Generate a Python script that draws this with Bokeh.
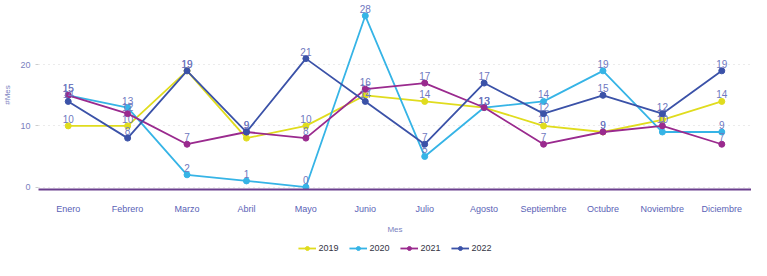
from bokeh.plotting import figure
from bokeh.layouts import column
from bokeh.models import ColumnDataSource, Legend, LegendItem, Range1d, FactorRange, FixedTicker
from bokeh.embed import file_html
from bokeh.resources import INLINE

months = ["Enero", "Febrero", "Marzo", "Abril", "Mayo", "Junio", "Julio",
          "Agosto", "Septiembre", "Octubre", "Noviembre", "Diciembre"]
years = ["2019", "2020", "2021", "2022"]
v2019 = [10, 10, 19, 8, 10, 15, 14, 13, 10, 9, 11, 14]
v2020 = [15, 13, 2, 1, 0, 28, 5, 13, 14, 19, 9, 9]
v2021 = [15, 12, 7, 9, 8, 16, 17, 13, 7, 9, 10, 7]
v2022 = [14, 8, 19, 9, 21, 14, 7, 17, 12, 15, 12, 19]
colors = ["#e0dc1e", "#36b4e6", "#9a2a8e", "#3b52a8"]

main = figure(width=751, height=236, x_range=FactorRange(factors=months),
              y_range=Range1d(-0.4, 30.5), output_backend="svg",
              toolbar_location=None, min_border_left=30, min_border_right=0,
              min_border_top=0, min_border_bottom=0)
main.outline_line_color = None

for name, vals, c in zip(years, [v2019, v2020, v2021, v2022], colors):
    src = ColumnDataSource(dict(x=months, y=vals, t=[str(v) for v in vals]))
    main.line("x", "y", source=src, line_color=c, line_width=1.8)
    main.scatter("x", "y", source=src, size=6, fill_color=c, line_color=c)
    main.text("x", "y", text="t", source=src, text_color="#6f78c0",
              text_font_size="10px", text_align="center", text_baseline="bottom",
              y_offset=-3)

main.yaxis.ticker = FixedTicker(ticks=[0, 10, 20])
main.yaxis.axis_label = "#Mes"
main.yaxis.axis_label_text_font_size = "8px"
main.yaxis.axis_label_text_font_style = "normal"
main.yaxis.axis_label_text_color = "#7a7fc0"
main.yaxis.major_label_text_font_size = "9px"
main.yaxis.major_label_text_color = "#7a7fc0"
main.yaxis.axis_line_color = None
main.yaxis.major_tick_line_color = "#cccccc"
main.yaxis.major_tick_out = 3
main.yaxis.major_tick_in = 0
main.yaxis.minor_tick_line_color = None

main.xaxis.axis_label = "Mes"
main.xaxis.axis_label_text_font_size = "8px"
main.xaxis.axis_label_text_font_style = "normal"
main.xaxis.axis_label_text_color = "#7a7fc0"
main.xaxis.axis_label_standoff = 8
main.xaxis.major_label_text_font_size = "9px"
main.xaxis.major_label_text_color = "#5a62b6"
main.xaxis.axis_line_color = "#6b3f8e"
main.xaxis.axis_line_width = 2
main.xaxis.major_tick_line_color = None
main.xaxis.major_tick_out = 0
main.xaxis.major_tick_in = 0
main.xaxis.major_label_standoff = 14

main.xgrid.grid_line_color = None
main.ygrid.grid_line_color = "#d6d6d6"
main.ygrid.grid_line_dash = "1 4"

# legend strip (dummy renderers placed outside the visible range)
leg = figure(width=751, height=24, x_range=Range1d(0, 1), y_range=Range1d(0, 1),
             output_backend="svg", toolbar_location=None, min_border=0)
leg.axis.visible = False
leg.grid.visible = False
leg.outline_line_color = None
items = []
for name, c in zip(years, colors):
    s = ColumnDataSource(dict(x=[-5, -4], y=[-5, -5]))
    r1 = leg.line("x", "y", source=s, line_color=c, line_width=1.8)
    r2 = leg.scatter("x", "y", source=s, size=6, fill_color=c, line_color=c)
    items.append(LegendItem(label=name, renderers=[r1, r2]))
legend = Legend(items=items, orientation="horizontal", location=(-15, 0),
                label_text_font_size="9px", label_text_color="#333344",
                glyph_width=18, glyph_height=10, spacing=10, padding=2,
                margin=0, border_line_color=None, label_standoff=3,
                label_height=10, background_fill_alpha=0)
legend.location = "center"
leg.add_layout(legend)

p = column(main, leg, spacing=0)

open("out.html", "w").write(file_html(p, INLINE))
